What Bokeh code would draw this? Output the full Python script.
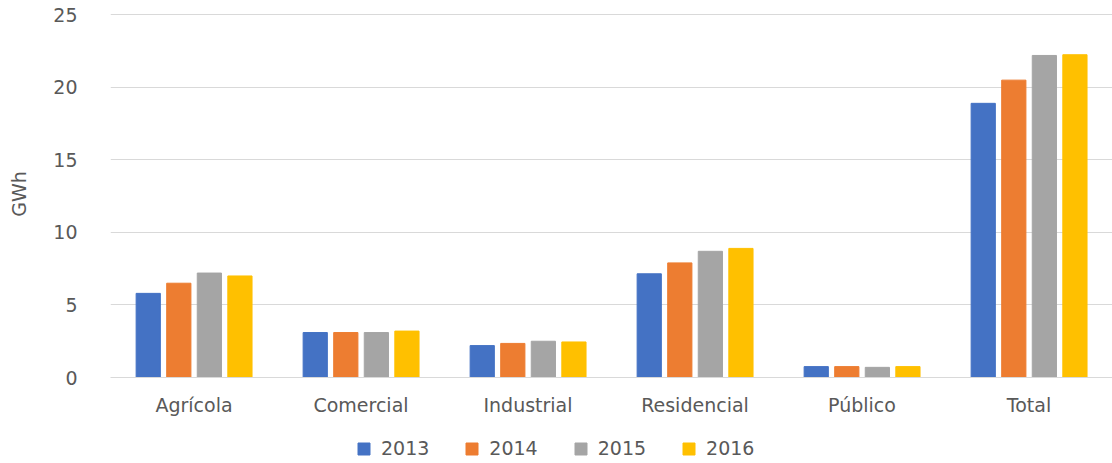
from bokeh.plotting import figure
from bokeh.models import Range1d, FixedTicker, Legend, LegendItem, ColumnDataSource
from bokeh.layouts import column
from bokeh.transform import dodge
from bokeh.embed import file_html
from bokeh.resources import INLINE

categories = ["Agrícola", "Comercial", "Industrial", "Residencial", "Público", "Total"]
years = ["2013", "2014", "2015", "2016"]
v2013 = [5.8, 3.1, 2.2, 7.15, 0.75, 18.9]
v2014 = [6.5, 3.1, 2.35, 7.9, 0.75, 20.5]
v2015 = [7.2, 3.1, 2.5, 8.7, 0.7, 22.2]
v2016 = [7.0, 3.2, 2.45, 8.9, 0.75, 22.25]
y_ticks = [0, 5, 10, 15, 20, 25]
colors = ["#4472C4", "#ED7D31", "#A5A5A5", "#FFC000"]

source = ColumnDataSource(data=dict(cat=categories, v2013=v2013, v2014=v2014,
                                    v2015=v2015, v2016=v2016))

p = figure(x_range=categories, y_range=Range1d(0, 25.3),
           frame_width=1002, frame_height=367,
           output_backend="svg", toolbar_location=None,
           min_border_left=110, min_border_right=0, min_border_top=10, min_border_bottom=0)

offsets = [-0.274, -0.091, 0.092, 0.275]
for yr, col, off in zip(years, colors, offsets):
    p.vbar(x=dodge("cat", off, range=p.x_range), top="v" + yr, width=0.145,
           source=source, color=col, line_color=col)

font = "DejaVu Sans"
txt = "#595959"
fs = "19px"

p.outline_line_color = None
p.xgrid.grid_line_color = None
p.ygrid.grid_line_color = "#D9D9D9"
p.ygrid.grid_line_width = 1
p.yaxis.ticker = FixedTicker(ticks=y_ticks)
p.yaxis.axis_line_color = None
p.yaxis.major_tick_line_color = None
p.yaxis.minor_tick_line_color = None
p.yaxis.major_label_text_font = font
p.yaxis.major_label_text_font_size = fs
p.yaxis.major_label_text_color = txt
p.yaxis.major_label_standoff = 27
p.yaxis.axis_label = "GWh"
p.yaxis.axis_label_text_font = font
p.yaxis.axis_label_text_font_size = "19px"
p.yaxis.axis_label_text_font_style = "normal"
p.yaxis.axis_label_text_color = txt
p.yaxis.axis_label_standoff = 20

p.xaxis.axis_line_color = "#D9D9D9"
p.xaxis.major_tick_line_color = None
p.xaxis.minor_tick_line_color = None
p.xaxis.major_label_text_font = font
p.xaxis.major_label_text_font_size = fs
p.xaxis.major_label_text_color = txt
p.xaxis.major_label_standoff = 10
p.x_range.range_padding = 0

# legend strip below the chart
q = figure(width=1112, height=41, x_range=Range1d(0, 1), y_range=Range1d(0, 1),
           output_backend="svg", toolbar_location=None,
           x_axis_type=None, y_axis_type=None,
           min_border_left=0, min_border_right=0, min_border_top=0, min_border_bottom=0)
q.outline_line_color = None
q.xgrid.grid_line_color = None
q.ygrid.grid_line_color = None
items = []
for yr, col in zip(years, colors):
    # legend swatch renderer, its single point lies outside the visible range
    r = q.vbar(x=[-5], top=[-5], width=0.1, color=col, line_color=col)
    items.append(LegendItem(label=yr, renderers=[r]))

legend = Legend(items=items, orientation="horizontal", location=(246, 0))
legend.label_text_font = font
legend.label_text_font_size = fs
legend.label_text_color = txt
legend.glyph_width = 15
legend.glyph_height = 15
legend.spacing = 35
legend.label_standoff = 10
legend.border_line_color = None
legend.background_fill_alpha = 0
legend.padding = 0
legend.margin = 0
q.add_layout(legend, "center")

layout = column(p, q, spacing=0)
open("out.html", "w").write(file_html(layout, INLINE))
